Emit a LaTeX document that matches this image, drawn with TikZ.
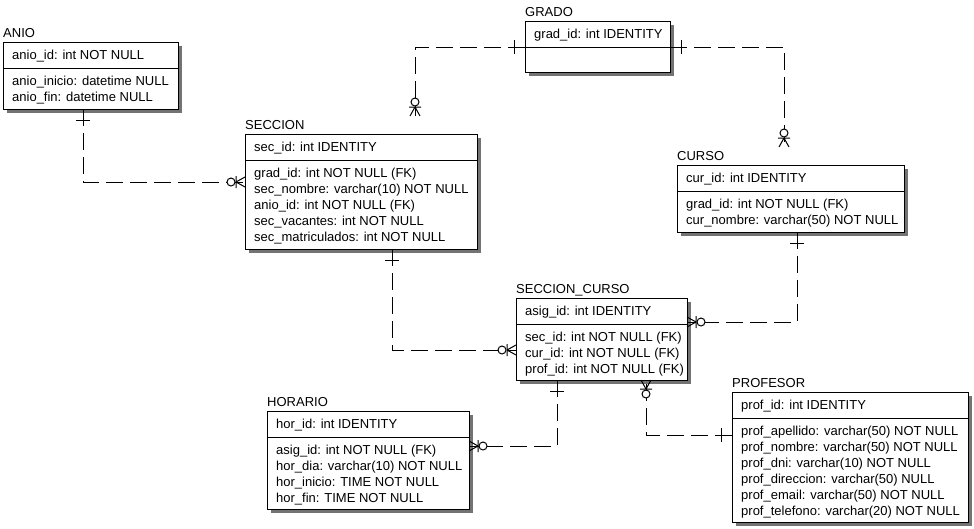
\documentclass[tikz,border=0pt]{standalone}
\usepackage{fontspec}
\setmainfont{Liberation Sans}
\usetikzlibrary{calc,shadows}
\tikzset{
  entbox/.style={draw=black, fill=white, line width=1pt, anchor=north west,
    inner sep=0pt, outer sep=0pt,
    general shadow={fill=black!55, shadow xshift=4pt, shadow yshift=-4pt}},
  enttitle/.style={anchor=base west, inner sep=0pt, font=\fontsize{13}{15}\selectfont},
  fld/.style={anchor=base west, inner sep=0pt, font=\fontsize{13}{15}\selectfont},
  rel/.style={draw=black, line width=1pt, dash pattern=on 17pt off 7pt},
  sym/.style={draw=black, line width=1pt, solid},
}
\newcommand{\entity}[7]{%
  \node[entbox, minimum width=#5, minimum height=#6] (#1) at (#3,#4) {};
  \node[enttitle] (#1-t) at ($(#1.north west)+(0,-5)$) {#2};
  \draw[line width=1pt] ($(#1.north west)+(0,26)$) -- ($(#1.north east)+(0,26)$);
  \node[fld] (#1-k) at ($(#1.north west)+(9,17.5)$) {#7};
}
\newcommand{\entrows}[2]{%
  \foreach \t [count=\i] in {#2} {\node[fld] (#1-r\i) at ($(#1.north west)+(9,27+16*\i)$) {\t};}
}
\newcommand{\onetick}[2]{\begin{scope}[shift={#1},rotate=#2]\draw[sym] (11,-7) -- (11,7);\end{scope}}
\newcommand{\zeromany}[2]{\begin{scope}[shift={#1},rotate=#2]
  \draw[sym] (-9,0) -- (0,5) (-9,0) -- (0,-5) (-9,-6) -- (-9,6);
  \draw[sym, fill=white] (-14,0) circle (4);
\end{scope}}
\begin{document}
\begin{tikzpicture}[x=1pt,y=-1pt]
\useasboundingbox[fill=white] (0,0) rectangle (974,528);

\entity{anio}{ANIO}{3}{42}{175}{67}{anio\_id: int NOT NULL}
\entrows{anio}{anio\_inicio: datetime NULL, anio\_fin: datetime NULL}

\entity{grado}{GRADO}{525}{21}{145}{51}{grad\_id: int IDENTITY}

\entity{sec}{SECCION}{245}{134}{232}{115}{sec\_id: int IDENTITY}
\entrows{sec}{grad\_id: int NOT NULL (FK), sec\_nombre: varchar(10) NOT NULL, anio\_id: int NOT NULL (FK), sec\_vacantes: int NOT NULL, sec\_matriculados: int NOT NULL}

\entity{curso}{CURSO}{677}{165}{227}{67}{cur\_id: int IDENTITY}
\entrows{curso}{grad\_id: int NOT NULL (FK), cur\_nombre: varchar(50) NOT NULL}

\entity{sc}{SECCION\_CURSO}{516}{298}{171}{82}{asig\_id: int IDENTITY}
\entrows{sc}{sec\_id: int NOT NULL (FK), cur\_id: int NOT NULL (FK), prof\_id: int NOT NULL (FK)}

\entity{hor}{HORARIO}{267}{411}{202}{98}{hor\_id: int IDENTITY}
\entrows{hor}{asig\_id: int NOT NULL (FK), hor\_dia: varchar(10) NOT NULL, hor\_inicio: TIME NOT NULL, hor\_fin: TIME NOT NULL}

\entity{prof}{PROFESOR}{732}{392}{236}{130}{prof\_id: int IDENTITY}
\entrows{prof}{prof\_apellido: varchar(50) NOT NULL, prof\_nombre: varchar(50) NOT NULL, prof\_dni: varchar(10) NOT NULL, prof\_direccion: varchar(50) NULL, prof\_email: varchar(50) NOT NULL, prof\_telefono: varchar(20) NOT NULL}

% ANIO - SECCION
\coordinate (a1) at (83,0 |- anio.south);
\coordinate (b1) at (0,182 -| sec.west);
\draw[rel] (a1) |- (b1);
\onetick{(a1)}{-90}
\zeromany{(b1)}{0}

% GRADO - SECCION
\coordinate (a2) at ($(grado.north west)+(0,26)$);
\coordinate (b2) at (415,116);
\draw[rel] (a2) -| (b2);
\onetick{(a2)}{180}
\zeromany{(b2)}{-90}

% GRADO - CURSO
\coordinate (a3) at ($(grado.north east)+(0,26)$);
\coordinate (b3) at (784,147);
\draw[rel] (a3) -| (b3);
\onetick{(a3)}{0}
\zeromany{(b3)}{-90}

% SECCION - SECCION_CURSO
\coordinate (a4) at (392,0 |- sec.south);
\coordinate (b4) at (0,350 -| sc.west);
\draw[rel] (a4) |- (b4);
\onetick{(a4)}{-90}
\zeromany{(b4)}{0}

% CURSO - SECCION_CURSO
\coordinate (a5) at (797,0 |- curso.south);
\coordinate (b5) at (0,322 -| sc.east);
\draw[rel] (a5) |- (b5);
\onetick{(a5)}{-90}
\zeromany{(b5)}{180}

% SECCION_CURSO - HORARIO
\coordinate (a6) at (557,0 |- sc.south);
\coordinate (b6) at (0,446 -| hor.east);
\draw[rel] (a6) |- (b6);
\onetick{(a6)}{-90}
\zeromany{(b6)}{180}

% PROFESOR - SECCION_CURSO
\coordinate (a7) at (0,435 -| prof.west);
\coordinate (b7) at (646,0 |- sc.south);
\draw[rel] (a7) -| (b7);
\onetick{(a7)}{180}
\zeromany{(b7)}{90}
\end{tikzpicture}
\end{document}
